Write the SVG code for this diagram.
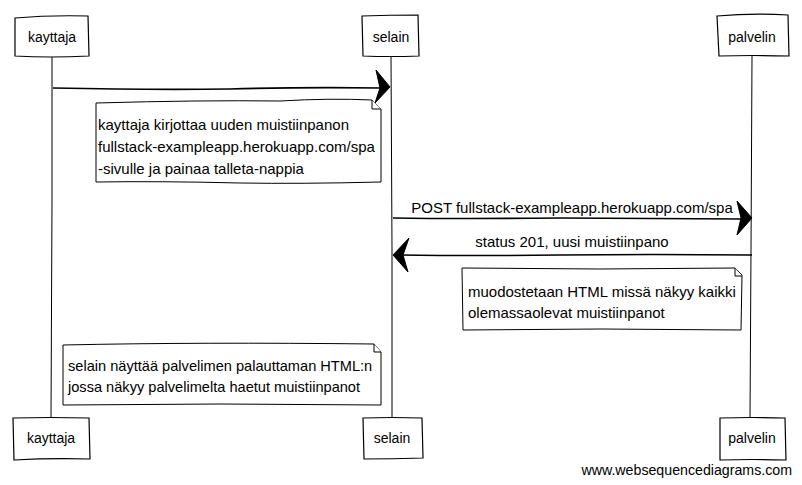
<svg xmlns="http://www.w3.org/2000/svg" width="802" height="485" viewBox="0 0 802 485">
<style>
.box{fill:#fff;stroke:#000;stroke-width:1.2;}
.note{fill:#fff;stroke:#000;stroke-width:1;}
.life{fill:none;stroke:#000;stroke-width:1;}
.msg{fill:none;stroke:#000;stroke-width:1.6;}
.head{fill:#000;stroke:#000;stroke-width:1;}
text{font-family:"Liberation Sans",Arial,sans-serif;font-size:15px;fill:#000;}
.c{text-anchor:middle;}
.a{font-size:14px;}
.n3{font-size:14.6px;}
.wm{font-size:14.2px;}
</style>
<rect width="802" height="485" fill="#fff"/>
<g id="lifelines" class="connectors">
<path class="life" d="M52 57 L52 200 L51 418"/>
<path class="life" d="M391 56 L392 250 L392 418"/>
<path class="life" d="M752 56 L751 250 L750 418"/>
</g>
<g id="actor-kayttaja-top">
<path class="box" d="M15 18 Q50 15 88 16 L89 56 Q50 58 15 56 Z"/>
<text class="c a" x="52" y="42">kayttaja</text>
</g>
<g id="actor-selain-top">
<path class="box" d="M362 16 Q390 15 418 15 L419 56 Q390 57 363 56 Z"/>
<text class="c a" x="391" y="42">selain</text>
</g>
<g id="actor-palvelin-top">
<path class="box" d="M717 16 Q752 13 788 15 L789 56 Q752 55 719 56 Z"/>
<text class="c a" x="752" y="42">palvelin</text>
</g>
<g id="actor-kayttaja-bottom">
<path class="box" d="M13 418 Q50 417 89 418 L90 459 Q50 458 14 460 Z"/>
<text class="c a" x="51" y="443">kayttaja</text>
</g>
<g id="actor-selain-bottom">
<path class="box" d="M363 418 Q392 417 422 418 L423 458 Q392 459 364 459 Z"/>
<text class="c a" x="392" y="443">selain</text>
</g>
<g id="actor-palvelin-bottom">
<path class="box" d="M720 418 Q752 417 785 418 L786 460 Q752 459 720 460 Z"/>
<text class="c a" x="752" y="443">palvelin</text>
</g>
<g id="connectors">
<path class="msg" d="M53 88 Q150 90 230 89 Q300 87 382 88"/>
<path class="head" d="M376 70 L390 87 L375 103 L380 88 Z"/>
<path class="msg" d="M393 218 Q460 219 560 218 Q620 218 742 219"/>
<path class="head" d="M737 201 L752 218 L737 235 L741 218 Z"/>
<text class="c" x="572" y="213">POST fullstack-exampleapp.herokuapp.com/spa</text>
<path class="msg" d="M752 255 Q650 254 560 255 Q480 256 400 255"/>
<path class="head" d="M409 238 L393 255 L408 272 L403 255 Z"/>
<text class="c" x="572" y="247">status 201, uusi muistiinpano</text>
</g>
<g id="note-1">
<path class="note" d="M96 103 Q200 100 280 101 Q330 98 372 100 L381 109 L381 182 Q300 184 240 183 Q160 181 96 182 Z"/>
<path class="note" d="M372 100 L372 109 L381 109"/>
<text x="98" y="130">kayttaja kirjottaa uuden muistiinpanon</text>
<text x="98" y="152">fullstack-exampleapp.herokuapp.com/spa</text>
<text x="98" y="174">-sivulle ja painaa talleta-nappia</text>
</g>
<g id="note-2">
<path class="note" d="M462 268 Q600 270 735 268 L742 275 L741 330 Q600 328 463 330 Z"/>
<path class="note" d="M735 268 L735 276 L742 276"/>
<text x="468" y="297">muodostetaan HTML missä näkyy kaikki</text>
<text x="468" y="318">olemassaolevat muistiinpanot</text>
</g>
<g id="note-3">
<path class="note" d="M63 345 Q200 342 374 344 L381 352 L381 405 Q220 403 63 405 Z"/>
<path class="note" d="M374 344 L374 352 L381 352"/>
<text class="n3" x="68" y="371">selain näyttää palvelimen palauttaman HTML:n</text>
<text class="n3" x="68" y="392">jossa näkyy palvelimelta haetut muistiinpanot</text>
</g>
<text class="wm" x="792" y="475" text-anchor="end">www.websequencediagrams.com</text>
</svg>
